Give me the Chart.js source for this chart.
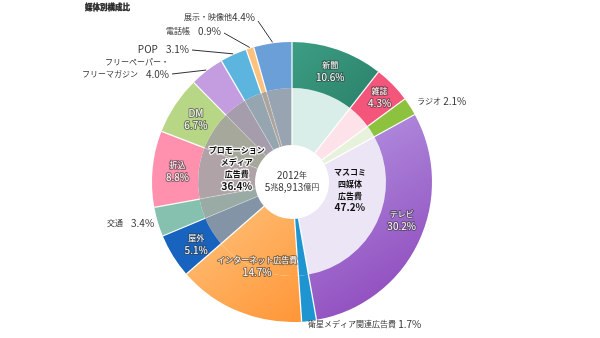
<!DOCTYPE html>
<html>
<head>
<meta charset="utf-8">
<script src="https://cdn.jsdelivr.net/npm/chart.js@4/dist/chart.umd.min.js"></script>
<style>
  html, body { margin: 0; padding: 0; background: #fff; }
  #wrap { position: relative; width: 600px; height: 338px; }
</style>
</head>
<body>
<div id="wrap"><canvas id="chart" width="600" height="338"></canvas></div>
<script>
// data
const chartTitle = '媒体別構成比';
const categories = ['新聞', '雑誌', 'ラジオ', 'テレビ', '衛星メディア関連広告費', 'インターネット広告費',
  '屋外', '交通', '折込', 'DM', 'フリーペーパー・フリーマガジン', 'POP', '電話帳', '展示・映像他'];
const shares = [10.6, 4.3, 2.1, 30.2, 1.7, 14.7, 5.1, 3.4, 8.8, 6.7, 4.0, 3.1, 0.9, 4.4];
const groupNames = [['マスコミ', '四媒体', '広告費'], ['プロモーション', 'メディア', '広告費']];
const groupShares = [47.2, 36.4];
const groupMembers = [[0, 1, 2, 3], [6, 7, 8, 9, 10, 11, 12, 13]];
const centerLines = ['2012年', '5兆8,913億円'];

// styles
const outerColors = ['#2f8a71', '#f4557b', '#8dc23f', '#9d6ad0', '#1e95d0', '#ffae5c',
  '#1763bd', '#86c1af', '#ff90ae', '#b7d786', '#c39ddf', '#5cb5df', '#ffc27e', '#6a9fd7'];
const innerColors = ['#d9eee8', '#fde3e9', '#e7f2dc', '#ece5f6', '#1e95d0', '#ffae5c',
  '#8494a7', '#9aaba6', '#afa3a8', '#a6a89c', '#a59dac', '#96a6b0', '#aaa49d', '#98a4b1'];
const gradStops = {
  0: ['#3b9d83', '#24735d', 300, 40, 400, 150],
  3: ['#b597e2', '#8a42b9', 320, 110, 440, 310],
  5: ['#ffc27c', '#ff9434', 200, 200, 300, 330]
};
const FONT = '"Noto Sans CJK JP", "Noto Sans", sans-serif';

const gradCache = {};
function fillFor(colors) {
  return (c) => {
    const i = c.dataIndex;
    const g = gradStops[i];
    if (!g || (colors === innerColors && i !== 5)) return colors[i];
    if (!gradCache[i]) {
      const lg = c.chart.ctx.createLinearGradient(g[2], g[3], g[4], g[5]);
      lg.addColorStop(0, g[0]); lg.addColorStop(1, g[1]);
      gradCache[i] = lg;
    }
    return gradCache[i];
  };
}

function textRuns(text) {
  const out = []; let cur = '', curCJK = null;
  for (const ch of text) {
    const cjk = /[\u3000-\u30ff\u3400-\u9fff\uff00-\uffef]/.test(ch);
    if (curCJK === null || cjk === curCJK) { cur += ch; curCJK = cjk; }
    else { out.push([cur, curCJK]); cur = ch; curCJK = cjk; }
  }
  if (cur) out.push([cur, curCJK]);
  return out;
}

function drawMixed(ctx, text, x, y, align, o) {
  const rs = textRuns(text);
  const fontFor = cjk => (o.bold ? 'bold ' : '') + (cjk ? (o.cjk || 8) : (o.lat || 10)) + 'px ' + FONT;
  let w = 0;
  const ws = rs.map(([t, c]) => { ctx.font = fontFor(c); const m = ctx.measureText(t).width; w += m; return m; });
  const x0 = align === 'center' ? x - w / 2 : align === 'right' ? x - w : x;
  ctx.textBaseline = 'middle'; ctx.textAlign = 'left';
  if (o.stroke) {
    let sx = x0;
    ctx.lineWidth = o.strokeW || 2; ctx.strokeStyle = o.stroke; ctx.lineJoin = 'round';
    rs.forEach(([t, c], i) => { ctx.font = fontFor(c); ctx.strokeText(t, sx, y); sx += ws[i]; });
  }
  let sx = x0;
  ctx.fillStyle = o.color || '#333';
  rs.forEach(([t, c], i) => { ctx.font = fontFor(c); ctx.fillText(t, sx, y); sx += ws[i]; });
}

function polar(arc, r, ang) {
  return { x: arc.x + r * Math.cos(ang), y: arc.y + r * Math.sin(ang) };
}

// labels inside segments: index -> [fraction along arc, radius]
const insideLabels = { 0: [0.5, 117], 1: [0.5, 122], 3: [0.44, 116], 5: [0.5, 91], 6: [0.45, 114], 8: [0.5, 115], 9: [0.5, 115] };
// labels outside: index -> text lines, anchor, align, leader line start
const outsideLabels = {
  2: { lines: ['ラジオ 2.1%'], x: 417, y: 101, align: 'left' },
  4: { lines: ['衛星メディア関連広告費 1.7%'], x: 308, y: 324, align: 'left' },
  7: { lines: ['交通　3.4%'], x: 107, y: 223, align: 'left' },
  10: { lines: ['フリーペーパー・', 'フリーマガジン　4.0%'], x: 169, y: 74, align: 'right', dy: -12, lead: [172, 74] },
  11: { lines: ['POP　3.1%'], x: 189, y: 49, align: 'right', lead: [192, 50] },
  12: { lines: ['電話帳　0.9%'], x: 221, y: 31, align: 'right', lead: [224, 33] },
  13: { lines: ['展示・映像他4.4%'], x: 255, y: 17, align: 'right', lead: [258, 21] }
};

const separators = {
  id: 'separators',
  afterDatasetsDraw(chart) {
    const ctx = chart.ctx;
    ctx.save();
    chart.data.datasets.forEach((ds, di) => {
      const arcs = chart.getDatasetMeta(di).data;
      arcs.forEach((arc, i) => {
        const promoInner = di === 1 && i >= 7;
        ctx.strokeStyle = promoInner ? 'rgba(255,255,255,0.3)' : 'rgba(255,255,255,0.95)';
        ctx.lineWidth = promoInner ? 1 : 1.3;
        const a = polar(arc, arc.innerRadius, arc.startAngle);
        const b = polar(arc, arc.outerRadius, arc.startAngle);
        ctx.beginPath(); ctx.moveTo(a.x, a.y); ctx.lineTo(b.x, b.y); ctx.stroke();
      });
    });
    ctx.restore();
  }
};

const labels = {
  id: 'labels',
  afterDraw(chart) {
    const ctx = chart.ctx;
    const outer = chart.getDatasetMeta(0).data;
    const inner = chart.getDatasetMeta(1).data;
    ctx.save();

    drawMixed(ctx, chartTitle, 85, 7, 'left', { bold: true, cjk: 7.5, color: '#222', stroke: '#222', strokeW: 0.4 });

    categories.forEach((name, i) => {
      const arc = outer[i];
      const v = shares[i].toFixed(1) + '%';
      if (insideLabels[i]) {
        const [f, r] = insideLabels[i];
        const p = polar(arc, r, arc.startAngle + (arc.endAngle - arc.startAngle) * f);
        const o = { color: '#fff', stroke: 'rgba(60,60,60,0.6)', strokeW: 2 };
        drawMixed(ctx, name, p.x, p.y - 6, 'center', o);
        drawMixed(ctx, v, p.x, p.y + 6, 'center', o);
      }
      const ol = outsideLabels[i];
      if (ol) {
        ol.lines.forEach((t, k) => {
          const y = ol.y + (ol.lines.length - 1 - k) * (ol.dy || 0);
          drawMixed(ctx, t, ol.x, y, ol.align, { color: '#333' });
        });
        if (ol.lead) {
          const mid = (arc.startAngle + arc.endAngle) / 2;
          const p = polar(arc, arc.outerRadius + 1, mid);
          ctx.strokeStyle = '#333'; ctx.lineWidth = 1;
          ctx.beginPath(); ctx.moveTo(ol.lead[0], ol.lead[1]); ctx.lineTo(p.x, p.y); ctx.stroke();
        }
      }
    });

    // group labels in the inner ring
    const groupFrac = [0.55, 0.45];
    groupMembers.forEach((m, g) => {
      const first = inner[m[0]], last = inner[m[m.length - 1]];
      const ang = first.startAngle + (last.endAngle - first.startAngle) * groupFrac[g];
      const p = polar(first, 58, ang);
      const lines = groupNames[g].concat([groupShares[g].toFixed(1) + '%']);
      const o = g === 1 ? { bold: true, color: '#111', stroke: 'rgba(255,255,255,0.9)', strokeW: 2.5 } : { bold: true, color: '#111' };
      lines.forEach((t, k) => drawMixed(ctx, t, p.x, p.y + 4 + (k - 1.5) * 12, 'center', o));
    });

    // centre text
    const c = outer[0];
    drawMixed(ctx, centerLines[0], c.x, c.y - 7, 'center', { color: '#333' });
    drawMixed(ctx, centerLines[1], c.x, c.y + 5, 'center', { color: '#333' });
    ctx.restore();
  }
};

new Chart(document.getElementById('chart'), {
  type: 'doughnut',
  data: {
    labels: categories,
    datasets: [
      { data: shares, backgroundColor: fillFor(outerColors), borderWidth: 0, weight: 46, hoverOffset: 0 },
      { data: shares, backgroundColor: fillFor(innerColors), borderWidth: 0, weight: 57, hoverOffset: 0 }
    ]
  },
  options: {
    responsive: false,
    animation: false,
    cutout: 37,
    events: [],
    layout: { padding: { top: 42, bottom: 16, left: 0, right: 16 } },
    plugins: { legend: { display: false }, tooltip: { enabled: false } }
  },
  plugins: [separators, labels]
});
</script>
</body>
</html>
